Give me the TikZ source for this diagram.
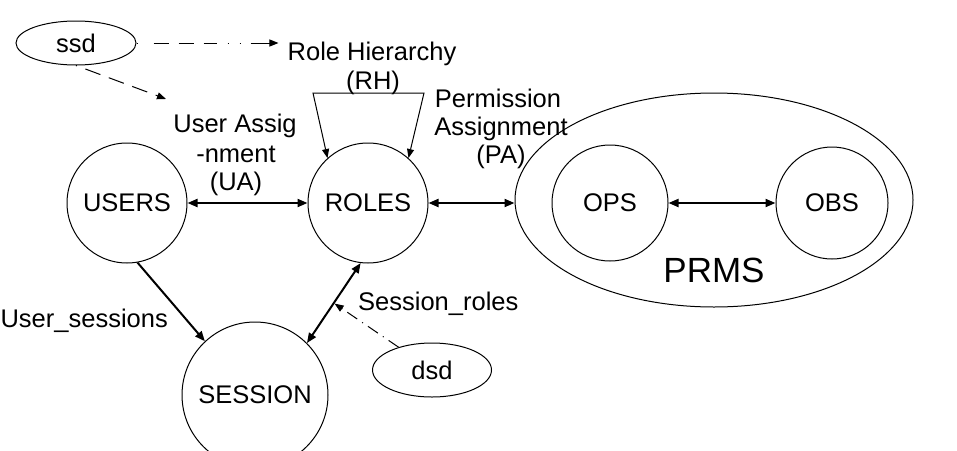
\documentclass[tikz,border=0pt]{standalone}
\usepackage{fontspec}
\setmainfont{Liberation Sans}
\usetikzlibrary{arrows.meta,calc,shapes.geometric}
\begin{document}
\begin{tikzpicture}[x=1pt,y=-1pt,
  every node/.style={font=\fontsize{25.5}{28}\selectfont},
  circ/.style={draw, circle, line width=1pt, inner sep=0pt},
  oval/.style={draw, ellipse, line width=1pt, inner sep=0pt},
  lbl/.style={inner sep=0pt, anchor=base},
  bold/.style={line width=2pt, -{Triangle[length=10pt,width=8pt]}},
  both/.style={line width=2pt, {Triangle[length=10pt,width=8pt]}-{Triangle[length=10pt,width=8pt]}},
  thinarr/.style={line width=1pt, -{Triangle[length=9pt,width=7pt]}},
  thinboth/.style={line width=1pt, {Triangle[length=9pt,width=7pt]}-{Triangle[length=9pt,width=7pt]}},
]
\useasboundingbox (0,0) rectangle (957,450);

% main nodes
\node[circ, minimum size=120pt] (users) at (127,203) {USERS};
\node[circ, minimum size=120pt] (roles) at (368,203) {ROLES};
\node[circ, minimum size=146pt] (session) at (255,395) {SESSION};
\node[oval, minimum width=398pt, minimum height=214pt] (prms) at (714,200) {};
\node[circ, minimum size=116pt] (ops) at (610,203) {OPS};
\node[circ, minimum size=112pt] (obs) at (832,203) {OBS};
\node[lbl, font=\fontsize{35}{40}\selectfont] (prmslbl) at (714,282) {PRMS};
\node[oval, minimum width=120pt, minimum height=44pt] (ssd) at (76,43) {ssd};
\node[oval, minimum width=119pt, minimum height=54pt] (dsd) at (432,370) {dsd};

% labels
\node[lbl] (rh1) at (372,60) {Role Hierarchy};
\node[lbl] (rh2) at (373,89) {(RH)};
\node[lbl] (ua1) at (235,132) {User Assig};
\node[lbl] (ua2) at (236,162) {-nment};
\node[lbl] (ua3) at (236,190) {(UA)};
\node[lbl] (pa1) at (498,107) {Permission};
\node[lbl] (pa2) at (501,135) {Assignment};
\node[lbl] (pa3) at (501,163) {(PA)};
\node[lbl, anchor=base east] (us) at (168,327) {User\_sessions};
\node[lbl, anchor=base west] (sr) at (358,310) {Session\_roles};

% helper coordinates
\coordinate (rhl) at (313,93);
\coordinate (rhr) at (424,93);
\coordinate (uatip) at (166,99);
\coordinate (srmid) at ($(session.45)!0.5!(roles.263)$);

% solid connectors
\draw[both] (users) -- (roles);
\draw[both] (roles.east) -- (roles.east -| prms.west);
\draw[both] (ops) -- (obs);
\draw[bold] (users.280) -- (session.133);
\draw[both] (session.45) -- (roles.263);
\draw[thinboth] (roles.132) -- (rhl) -- (rhr) -- (roles.48);

% dashed connectors
\draw[thinarr, shorten >=9pt, dash pattern=on 1pt off 16pt on 15pt off 10pt on 15pt off 10pt on 13pt off 11pt on 1pt off 11pt on 1pt off 10pt on 30pt]
  (ssd.east) -- (ssd.east -| rh1.west);
\draw[thinarr, dash pattern=on 1pt off 9pt on 16pt off 9pt on 16pt off 9pt on 16pt off 9pt on 40pt]
  (ssd.south) -- (uatip);
\draw[thinarr, shorten >=1pt, dash pattern=on 12pt off 6pt on 1pt off 6pt]
  (dsd) -- (srmid);
\end{tikzpicture}
\end{document}
